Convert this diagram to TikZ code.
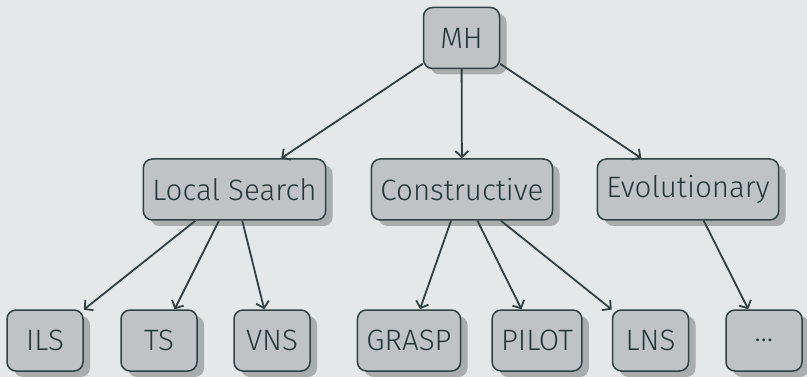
\documentclass[tikz,border=0pt]{standalone}
\usepackage{fontspec}
\setmainfont{Fira Sans}[UprightFont=* Light]
\usetikzlibrary{arrows.meta,shadows}
\definecolor{bgcol}{HTML}{E4E8E8}
\definecolor{boxfill}{HTML}{BFC3C5}
\definecolor{boxline}{HTML}{2E4245}
\definecolor{shadowcol}{HTML}{AAADAD}
\definecolor{textcol}{HTML}{23373B}
\begin{document}
\begin{tikzpicture}[x=1pt,y=-1pt,
  box/.style={draw=boxline, fill=boxfill, line width=1.5pt, rounded corners=9pt,
    minimum width=76pt, minimum height=61pt, inner xsep=9pt,
    text=textcol, font=\fontsize{29.5}{35}\selectfont,
    drop shadow={shadow xshift=7pt, shadow yshift=-6pt, fill=shadowcol, opacity=1}},
  link/.style={draw=boxline, line width=1.8pt, -{Straight Barb[length=6pt,width=13pt]}}]
  % page background and extent
  \fill[bgcol] (0,0) rectangle (807,377);
  \useasboundingbox (0,0) rectangle (807,377);
  % root
  \node[box] (mh) at (461.5,38) {MH};
  % families
  \node[box] (ls)  at (234.5,189.5) {Local Search};
  \node[box] (con) at (462,189.5) {Constructive};
  \node[box] (evo) at (688,189.5) {Evolutionary};
  % individual methods
  \node[box] (ils)   at (45,340.5)  {ILS};
  \node[box] (ts)    at (159,340.5) {TS};
  \node[box] (vns)   at (272,340.5) {VNS};
  \node[box] (grasp) at (409,340.5) {GRASP};
  \node[box] (pilot) at (537,340.5) {PILOT};
  \node[box] (lns)   at (650.5,340.5) {LNS};
  \node[box] (more)  at (764,340.5) {\ldots};
  % links
  \draw[link] (mh) -- (ls);
  \draw[link] (mh) -- (con);
  \draw[link] (mh) -- (evo);
  \draw[link] (ls) -- (ils);
  \draw[link] (ls) -- (ts);
  \draw[link] (ls) -- (vns);
  \draw[link] (con) -- (grasp);
  \draw[link] (con) -- (pilot);
  \draw[link] (con) -- (lns);
  \draw[link] (evo) -- (more);
\end{tikzpicture}
\end{document}
